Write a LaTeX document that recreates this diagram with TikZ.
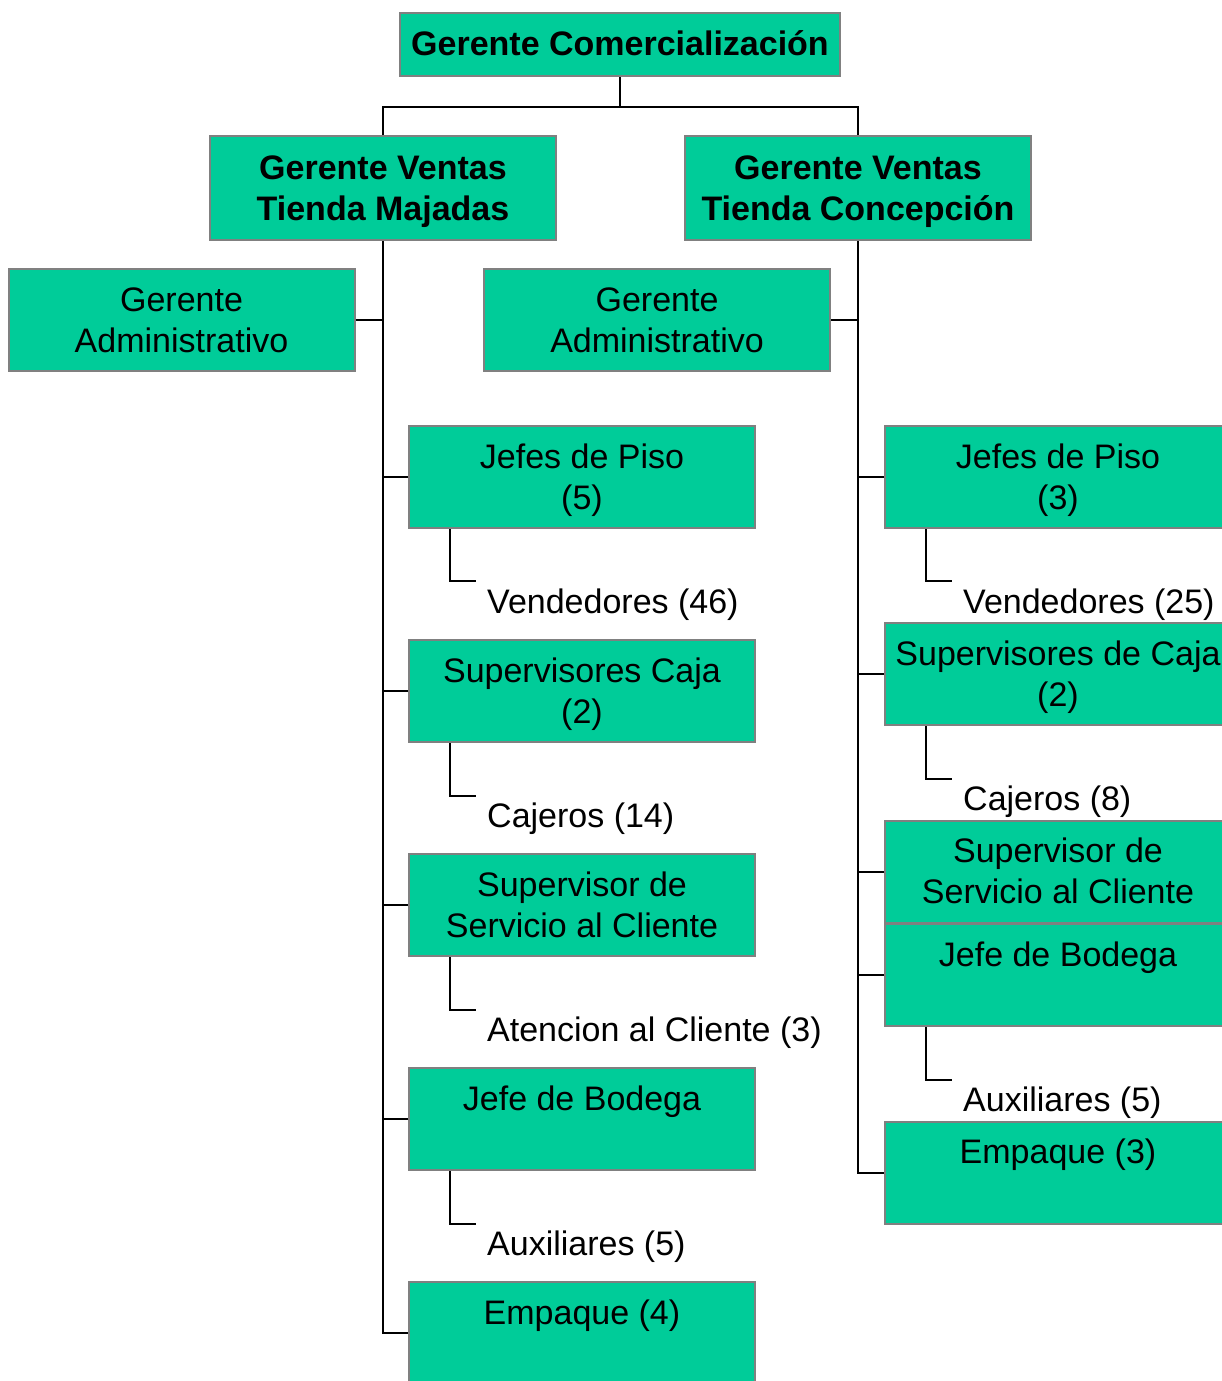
\documentclass[tikz,border=0pt]{standalone}
\usepackage{fontspec}
\setmainfont{Liberation Sans}
\definecolor{boxgreen}{HTML}{00CC99}
\definecolor{boxgray}{HTML}{808080}
\newcommand\mystrut{\rule[-9pt]{0pt}{41pt}}
\begin{document}
\begin{tikzpicture}[x=1pt,y=-1pt,
  box/.style={draw=boxgray, line width=2pt, fill=boxgreen, minimum width=346pt,
    minimum height=102pt, align=center, inner sep=0pt,
    font=\fontsize{34}{41}\selectfont},
  boldbox/.style={box, font=\fontsize{34}{41}\selectfont\bfseries},
  lbl/.style={anchor=base west, inner sep=0pt, font=\fontsize{34}{41}\selectfont},
  conn/.style={draw=black, line width=2pt}]
\clip (0,0) rectangle (1222,1381);
\useasboundingbox (0,0) rectangle (1222,1381);
% top level
\node[boldbox, minimum width=440pt, minimum height=63pt] (top) at (620,44.5) {\mystrut Gerente Comercialización};
\node[boldbox, minimum height=104pt] (gvm) at (383,188) {\mystrut Gerente Ventas\\\mystrut Tienda Majadas};
\node[boldbox, minimum height=104pt] (gvc) at (858,188) {\mystrut Gerente Ventas\\\mystrut Tienda Concepción};
\node[box] (gam) at (181.5,320) {\mystrut Gerente\\\mystrut Administrativo};
\node[box] (gac) at (657,320) {\mystrut Gerente\\\mystrut Administrativo};
% left column
\node[box] (jp1) at (582,477) {\mystrut Jefes de Piso\\\mystrut (5)};
\node[box] (sc1) at (582,691) {\mystrut Supervisores Caja\\\mystrut (2)};
\node[box] (ss1) at (582,905) {\mystrut Supervisor de\\\mystrut Servicio al Cliente};
\node[box] (jb1) at (582,1119) {\mystrut Jefe de Bodega\\\mystrut};
\node[box] (em1) at (582,1333) {\mystrut Empaque (4)\\\mystrut};
\node[lbl] (v1) at (487,613) {Vendedores (46)};
\node[lbl] (c1) at (487,827) {Cajeros (14)};
\node[lbl] (a1) at (487,1041) {Atencion al Cliente (3)};
\node[lbl] (x1) at (487,1255) {Auxiliares (5)};
% right column
\node[box] (jp2) at (1058,477) {\mystrut Jefes de Piso\\\mystrut (3)};
\node[box] (sc2) at (1058,674) {\mystrut Supervisores de Caja\\\mystrut (2)};
\node[box] (ss2) at (1058,871.5) {\mystrut Supervisor de\\\mystrut Servicio al Cliente};
\node[box] (jb2) at (1058,975) {\mystrut Jefe de Bodega\\\mystrut};
\node[box] (em2) at (1058,1172.5) {\mystrut Empaque (3)\\\mystrut};
\node[lbl] (v2) at (963,613) {Vendedores (25)};
\node[lbl] (c2) at (963,810) {Cajeros (8)};
\node[lbl] (x2) at (963,1111) {Auxiliares (5)};
% top connectors
\coordinate (bus) at (620,107);
\draw[conn] (top.south) -- (bus) -| (gvm.north);
\draw[conn] (bus) -| (gvc.north);
% left trunk
\draw[conn] (gvm.south) -- (gvm.south |- em1.west) -- (em1.west);
\foreach \n in {gam.east, jp1.west, sc1.west, ss1.west, jb1.west}
  \draw[conn] (\n) -- (\n -| gvm.south);
% right trunk
\draw[conn] (gvc.south) -- (gvc.south |- em2.west) -- (em2.west);
\foreach \n in {gac.east, jp2.west, sc2.west, ss2.west, jb2.west}
  \draw[conn] (\n) -- (\n -| gvc.south);
% elbows
\coordinate (e1) at (476,581);
\coordinate (e2) at (476,796);
\coordinate (e3) at (476,1010);
\coordinate (e4) at (476,1224);
\coordinate (f1) at (952,581);
\coordinate (f2) at (952,779);
\coordinate (f3) at (952,1080);
\draw[conn] ([xshift=42pt]jp1.south west) |- (e1);
\draw[conn] ([xshift=42pt]sc1.south west) |- (e2);
\draw[conn] ([xshift=42pt]ss1.south west) |- (e3);
\draw[conn] ([xshift=42pt]jb1.south west) |- (e4);
\draw[conn] ([xshift=42pt]jp2.south west) |- (f1);
\draw[conn] ([xshift=42pt]sc2.south west) |- (f2);
\draw[conn] ([xshift=42pt]jb2.south west) |- (f3);
\end{tikzpicture}
\end{document}
